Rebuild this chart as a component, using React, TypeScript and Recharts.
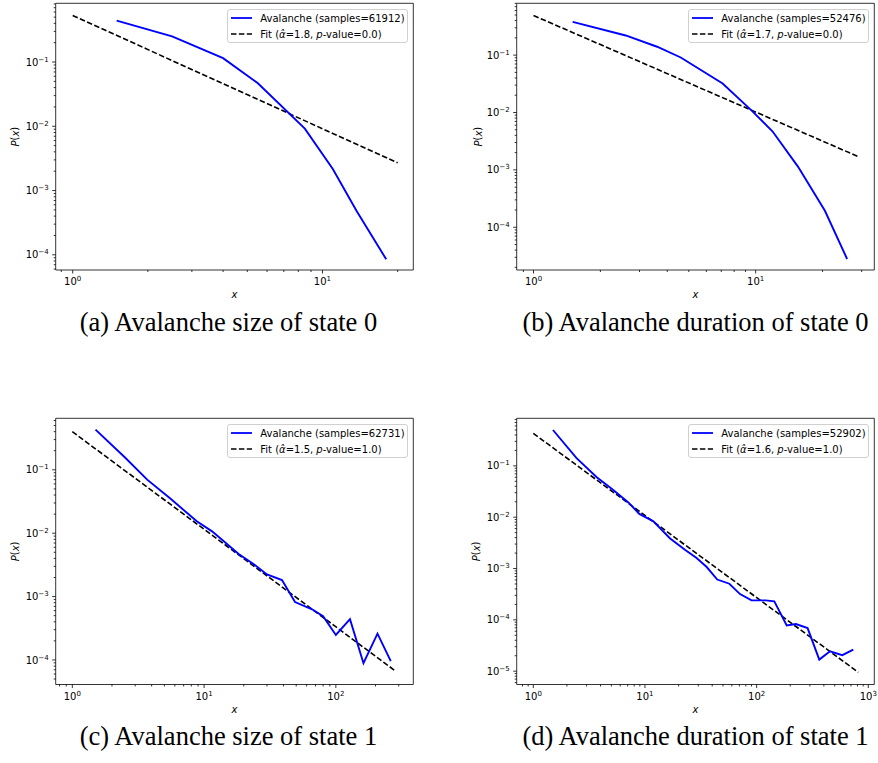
import React from "react"
import { LineChart, Line, XAxis, YAxis, ReferenceArea } from "recharts"

// avalanche distributions
const sizeState0X = [1.5, 2.5, 4.0, 5.5, 8.5, 11, 13.7, 18]
const sizeState0P = [0.44, 0.25, 0.115, 0.047, 0.0092, 0.00216, 0.00048, 0.000085]
const sizeState0FitX = [1, 20]
const sizeState0FitP = [0.53, 0.0027]

const durState0X = [1.5, 2.6, 3.6, 4.6, 7.1, 9.6, 11.9, 15.5, 20.5, 25.8]
const durState0P = [0.38, 0.22, 0.14, 0.091, 0.032, 0.0108, 0.0047, 0.00114, 0.000194, 0.000028]
const durState0FitX = [1, 29]
const durState0FitP = [0.49, 0.0017]

const sizeState1X = [1.5, 2.5, 3.7, 5.6, 8.8, 11.5, 18.3, 24, 30, 39, 49, 66, 80, 100, 128, 162, 207, 261]
const sizeState1P = [0.43, 0.158, 0.07, 0.0346, 0.0154, 0.0107, 0.0047, 0.0032, 0.00223, 0.00182, 0.00082, 0.00063, 0.00049, 0.000248, 0.00044, 0.000089, 0.00026, 0.000096]
const sizeState1FitX = [1, 286]
const sizeState1FitP = [0.4, 0.000066]

const durState1X = [1.5, 2.44, 3.7, 5.2, 7.1, 8.9, 11.9, 16.7, 22.8, 29, 35.7, 44.4, 57, 71, 90, 120, 144, 186, 225, 286, 364, 454, 585, 734]
const durState1P = [0.5, 0.141, 0.06, 0.034, 0.0194, 0.0116, 0.0083, 0.0039, 0.00232, 0.0016, 0.00107, 0.00061, 0.000506, 0.000318, 0.00024, 0.00024, 0.000229, 0.000078, 0.000083, 0.000069, 0.0000168, 0.0000244, 0.0000205, 0.0000263]
const durState1FitX = [1, 813]
const durState1FitP = [0.43, 0.0000095]

const sampleCounts = [61912, 52476, 62731, 52902]
const fitAlphas = ["1.8", "1.7", "1.5", "1.6"]
const fitPValues = ["0.0", "0.0", "1.0", "1.0"]
const captions = [
  "(a) Avalanche size of state 0",
  "(b) Avalanche duration of state 0",
  "(c) Avalanche size of state 1",
  "(d) Avalanche duration of state 1",
]

const xMajorA = [1, 10]
const yMajorA = [1e-4, 1e-3, 1e-2, 1e-1]
const xMajorB = [1, 10]
const yMajorB = [1e-4, 1e-3, 1e-2, 1e-1]
const xMajorC = [1, 10, 100]
const yMajorC = [1e-4, 1e-3, 1e-2, 1e-1]
const xMajorD = [1, 10, 100, 1000]
const yMajorD = [1e-5, 1e-4, 1e-3, 1e-2, 1e-1]

const toPoints = (xs: number[], ps: number[]) => xs.map((x, i) => ({ x, p: ps[i] }))

const FONT = "'DejaVu Sans', sans-serif"

// majors plus the 2..9 minor ticks inside the domain
const logTicks = (majors: number[], domain: [number, number]) => {
  const out: number[] = []
  const decades = [majors[0] / 10, ...majors]
  decades.forEach((d) => {
    for (let m = 1; m < 10; m++) {
      const v = d * m
      if (v >= domain[0] && v <= domain[1]) out.push(v)
    }
  })
  return out
}

const isMajor = (v: number) => {
  const l = Math.log10(v)
  return Math.abs(l - Math.round(l)) < 1e-6
}

const expText = (v: number) => {
  const e = Math.round(Math.log10(v))
  return e < 0 ? "\u2212" + Math.abs(e) : String(e)
}

const XTick = (props: any) => {
  const { x, y, payload } = props
  const v = payload.value
  const major = isMajor(v)
  return (
    <g>
      <line x1={x} x2={x} y1={y} y2={y + (major ? 3.5 : 2)} stroke="#000" strokeWidth={0.8} />
      {major && (
        <text x={x} y={y + 15} textAnchor="middle" fontSize={10} fontFamily={FONT} fill="#000">
          10<tspan dy={-4} fontSize={7}>{expText(v)}</tspan>
        </text>
      )}
    </g>
  )
}

const YTick = (props: any) => {
  const { x, y, payload } = props
  const v = payload.value
  const major = isMajor(v)
  return (
    <g>
      <line x1={x} x2={x - (major ? 3.5 : 2)} y1={y} y2={y} stroke="#000" strokeWidth={0.8} />
      {major && (
        <text x={x - 7} y={y + 3.6} textAnchor="end" fontSize={10} fontFamily={FONT} fill="#000">
          10<tspan dy={-4} fontSize={7}>{expText(v)}</tspan>
        </text>
      )}
    </g>
  )
}

type PanelProps = {
  left: number
  top: number
  width: number
  height: number
  frame: { L: number; R: number; T: number; B: number }
  xDomain: [number, number]
  yDomain: [number, number]
  xMajor: number[]
  yMajor: number[]
  data: { x: number; p: number }[]
  fit: { x: number; p: number }[]
  index: number
  yLabelGap: number
}

const Legend = ({ index }: { index: number }) => (
  <div
    style={{
      position: "absolute",
      width: 181,
      height: 34,
      boxSizing: "border-box",
      border: "1px solid #d0d0d0",
      borderRadius: 3,
      background: "rgba(255,255,255,0.8)",
      fontFamily: FONT,
      fontSize: 10,
      color: "#000",
    }}
  >
    <div style={{ position: "absolute", top: 1, left: 2, height: 14, display: "flex", alignItems: "center", whiteSpace: "nowrap" }}>
      <svg width={30} height={14}>
        <line x1={1} x2={22} y1={7} y2={7} stroke="#0000ff" strokeWidth={1.8} />
      </svg>
      <span>Avalanche (samples={sampleCounts[index]})</span>
    </div>
    <div style={{ position: "absolute", top: 17, left: 2, height: 14, display: "flex", alignItems: "center", whiteSpace: "nowrap" }}>
      <svg width={30} height={14}>
        <line x1={1} x2={22} y1={7} y2={7} stroke="#000" strokeWidth={1.6} strokeDasharray="5.5 2.4" />
      </svg>
      <span>
        Fit (<i>{"\u03B1\u0302"}</i>={fitAlphas[index]}, <i>p</i>-value={fitPValues[index]})
      </span>
    </div>
  </div>
)

const Panel = (p: PanelProps) => {
  const { left, top, width, height, frame } = p
  const margin = {
    left: frame.L - left - 50,
    right: left + width - frame.R,
    top: frame.T - top,
    bottom: top + height - frame.B - 30,
  }
  return (
    <div style={{ position: "absolute", left, top, width, height }}>
      <LineChart width={width} height={height} margin={margin} style={{ overflow: "visible" }}>
        <XAxis
          dataKey="x"
          type="number"
          scale="log"
          domain={p.xDomain}
          allowDataOverflow
          ticks={logTicks(p.xMajor, p.xDomain)}
          interval={0}
          tickSize={0}
          tickMargin={0}
          axisLine={false}
          tickLine={false}
          tick={<XTick />}
          height={30}
          label={(lp: any) => {
            const vb = lp.viewBox
            return (
              <text x={vb.x + vb.width / 2} y={vb.y + 28} textAnchor="middle" fontSize={10} fontFamily={FONT} fontStyle="italic">
                x
              </text>
            )
          }}
        />
        <YAxis
          type="number"
          scale="log"
          domain={p.yDomain}
          allowDataOverflow
          ticks={logTicks(p.yMajor, p.yDomain)}
          interval={0}
          tickSize={0}
          tickMargin={0}
          axisLine={false}
          tickLine={false}
          tick={<YTick />}
          width={50}
          label={(lp: any) => {
            const vb = lp.viewBox
            const cx = vb.x + vb.width - p.yLabelGap
            const cy = vb.y + vb.height / 2
            return (
              <text x={cx} y={cy} transform={`rotate(-90 ${cx} ${cy})`} textAnchor="middle" dominantBaseline="central" fontSize={10} fontFamily={FONT}>
                <tspan fontStyle="italic">P</tspan>(<tspan fontStyle="italic">x</tspan>)
              </text>
            )
          }}
        />
        <ReferenceArea
          x1={p.xDomain[0]}
          x2={p.xDomain[1]}
          y1={p.yDomain[0]}
          y2={p.yDomain[1]}
          fill="none"
          stroke="#000"
          strokeWidth={0.8}
          ifOverflow="visible"
        />
        <Line data={p.fit} dataKey="p" stroke="#000" strokeWidth={1.6} strokeDasharray="5.5 2.4" dot={false} isAnimationActive={false} />
        <Line data={p.data} dataKey="p" stroke="#0000ff" strokeWidth={1.9} dot={false} isAnimationActive={false} />
      </LineChart>
      <div style={{ position: "absolute", left: frame.R - left - 5 - 181, top: frame.T - top + 6 }}>
        <Legend index={p.index} />
      </div>
    </div>
  )
}

const Caption = ({ text, cx, cy }: { text: string; cx: number; cy: number }) => (
  <div
    style={{
      position: "absolute",
      left: cx - 220,
      top: cy - 16,
      width: 440,
      height: 32,
      lineHeight: "32px",
      textAlign: "center",
      fontFamily: "'Liberation Serif', serif",
      fontSize: 26.5,
      color: "#000",
      whiteSpace: "nowrap",
    }}
  >
    {text}
  </div>
)

const App = () => (
  <div style={{ position: "absolute", left: 0, top: 0, width: 878, height: 763, background: "#fff" }}>
    <Panel
      left={0}
      top={0}
      width={440}
      height={300}
      frame={{ L: 55.7, R: 413.3, T: 3.3, B: 270 }}
      xDomain={[0.855, 23.1]}
      yDomain={[5.8e-5, 0.82]}
      xMajor={xMajorA}
      yMajor={yMajorA}
      data={toPoints(sizeState0X, sizeState0P)}
      fit={toPoints(sizeState0FitX, sizeState0FitP)}
      index={0}
      yLabelGap={41}
    />
    <Panel
      left={440}
      top={0}
      width={438}
      height={300}
      frame={{ L: 516.7, R: 874.3, T: 3.3, B: 270 }}
      xDomain={[0.84, 34.2]}
      yDomain={[1.8e-5, 0.8]}
      xMajor={xMajorB}
      yMajor={yMajorB}
      data={toPoints(durState0X, durState0P)}
      fit={toPoints(durState0FitX, durState0FitP)}
      index={1}
      yLabelGap={39}
    />
    <Panel
      left={0}
      top={400}
      width={440}
      height={320}
      frame={{ L: 55.7, R: 413.3, T: 418.3, B: 684.5 }}
      xDomain={[0.748, 387]}
      yDomain={[4.1e-5, 0.65]}
      xMajor={xMajorC}
      yMajor={yMajorC}
      data={toPoints(sizeState1X, sizeState1P)}
      fit={toPoints(sizeState1FitX, sizeState1FitP)}
      index={2}
      yLabelGap={41}
    />
    <Panel
      left={440}
      top={400}
      width={438}
      height={320}
      frame={{ L: 516.7, R: 874.3, T: 418.3, B: 684.5 }}
      xDomain={[0.71, 1132]}
      yDomain={[5.5e-6, 0.845]}
      xMajor={xMajorD}
      yMajor={yMajorD}
      data={toPoints(durState1X, durState1P)}
      fit={toPoints(durState1FitX, durState1FitP)}
      index={3}
      yLabelGap={41}
    />
    <Caption text={captions[0]} cx={228.5} cy={322} />
    <Caption text={captions[1]} cx={695.5} cy={322} />
    <Caption text={captions[2]} cx={228.5} cy={736} />
    <Caption text={captions[3]} cx={695.5} cy={736} />
  </div>
)

export default App
